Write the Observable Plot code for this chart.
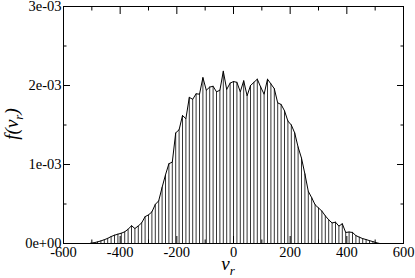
<!DOCTYPE html>
<html><head><meta charset="utf-8">
<script src="https://cdn.jsdelivr.net/npm/d3@7"></script>
<script src="https://cdn.jsdelivr.net/npm/@observablehq/plot@0.6"></script>
<style>body{margin:0;background:#fff}#chart{width:415px;height:278px}</style>
</head><body><div id="chart"></div>
<script>
// bin centres (v_r)
const vr = [-504,-492,-480,-468,-456,-444,-432,-420,-408,-396,-384,-372,-360,-348,-336,-324,-312,-300,-288,-276,-264,-252,-240,-228,-216,-204,-192,-180,-168,-156,-144,-132,-120,-108,-96,-84,-72,-60,-48,-36,-24,-12,0,12,24,36,48,60,72,84,96,108,120,132,144,156,168,180,192,204,216,228,240,252,264,276,288,300,312,324,336,348,360,372,384,396,408,420,432,444,456,468,480,492,504,516];
// f(v_r) in units of 1e-03
const fv = [0.003,0.010,0.020,0.033,0.048,0.065,0.088,0.105,0.118,0.130,0.148,0.180,0.225,0.190,0.222,0.262,0.340,0.362,0.400,0.495,0.540,0.710,0.870,1.010,1.030,1.400,1.440,1.620,1.580,1.850,1.825,1.895,1.890,2.100,1.940,1.980,1.990,1.920,1.940,2.180,1.950,2.030,2.050,2.040,1.920,2.060,1.870,2.000,2.040,2.080,1.980,1.890,2.080,2.020,1.960,1.780,1.760,1.680,1.550,1.500,1.400,1.220,1.080,0.880,0.660,0.580,0.490,0.450,0.410,0.350,0.300,0.260,0.270,0.220,0.250,0.140,0.145,0.140,0.100,0.080,0.062,0.050,0.036,0.024,0.010,0.000];
const xTicks = [-600,-400,-200,0,200,400,600];
const xMinor = [-500,-300,-100,100,300,500];
const yTicks = [0,1,2,3];
const yTickLabels = ["0e+00","1e-03","2e-03","3e-03"];
const yMinor = [0.5,1.5,2.5];

const data = vr.map((v,i)=>({v, f: fv[i]}));
const font = "'Liberation Serif','DejaVu Serif',serif";
const noText = () => "";

const plot = Plot.plot({
  width: 415, height: 278,
  marginLeft: 63, marginRight: 12, marginTop: 6, marginBottom: 35,
  style: {fontFamily: font, fontSize: "14.5px", color: "black", background: "white", overflow: "visible"},
  x: {domain: [-600, 600]},
  y: {domain: [0, 3]},
  marks: [
    Plot.ruleX(data, {x: "v", y1: 0, y2: "f", stroke: "black", strokeWidth: 0.8}),
    Plot.line(data, {x: "v", y: "f", stroke: "black", strokeWidth: 1}),
    Plot.frame({stroke: "black", strokeWidth: 1}),
    Plot.axisX(xTicks, {anchor: "bottom", tickSize: -7, tickPadding: 10, label: null, tickFormat: d => String(d)}),
    Plot.axisX(xTicks, {anchor: "top", tickSize: -7, label: null, tickFormat: noText}),
    Plot.axisX(xMinor, {anchor: "bottom", tickSize: -3.5, label: null, tickFormat: noText}),
    Plot.axisX(xMinor, {anchor: "top", tickSize: -3.5, label: null, tickFormat: noText}),
    Plot.axisY(yTicks, {anchor: "left", tickSize: -7, tickPadding: 9, label: null, tickFormat: (d,i) => yTickLabels[i]}),
    Plot.axisY(yTicks, {anchor: "right", tickSize: -7, label: null, tickFormat: noText}),
    Plot.axisY(yMinor, {anchor: "left", tickSize: -3.5, label: null, tickFormat: noText}),
    Plot.axisY(yMinor, {anchor: "right", tickSize: -3.5, label: null, tickFormat: noText})
  ]
});

const svg = d3.select(plot);
const xl = svg.append("text").attr("x", 228).attr("y", 270)
  .attr("font-family", font).attr("font-style", "italic").attr("font-size", 19).attr("fill", "black");
xl.append("tspan").text("v");
xl.append("tspan").attr("font-size", 13).attr("dy", 5).text("r");

const yl = svg.append("text").attr("transform", "translate(18,124) rotate(-90)").attr("text-anchor", "middle")
  .attr("font-family", font).attr("font-style", "italic").attr("font-size", 19).attr("fill", "black");
yl.append("tspan").text("f(v");
yl.append("tspan").attr("font-size", 13).attr("dy", 5).text("r");
yl.append("tspan").attr("dy", -5).text(")");

document.getElementById("chart").appendChild(plot);
</script>
</body></html>
